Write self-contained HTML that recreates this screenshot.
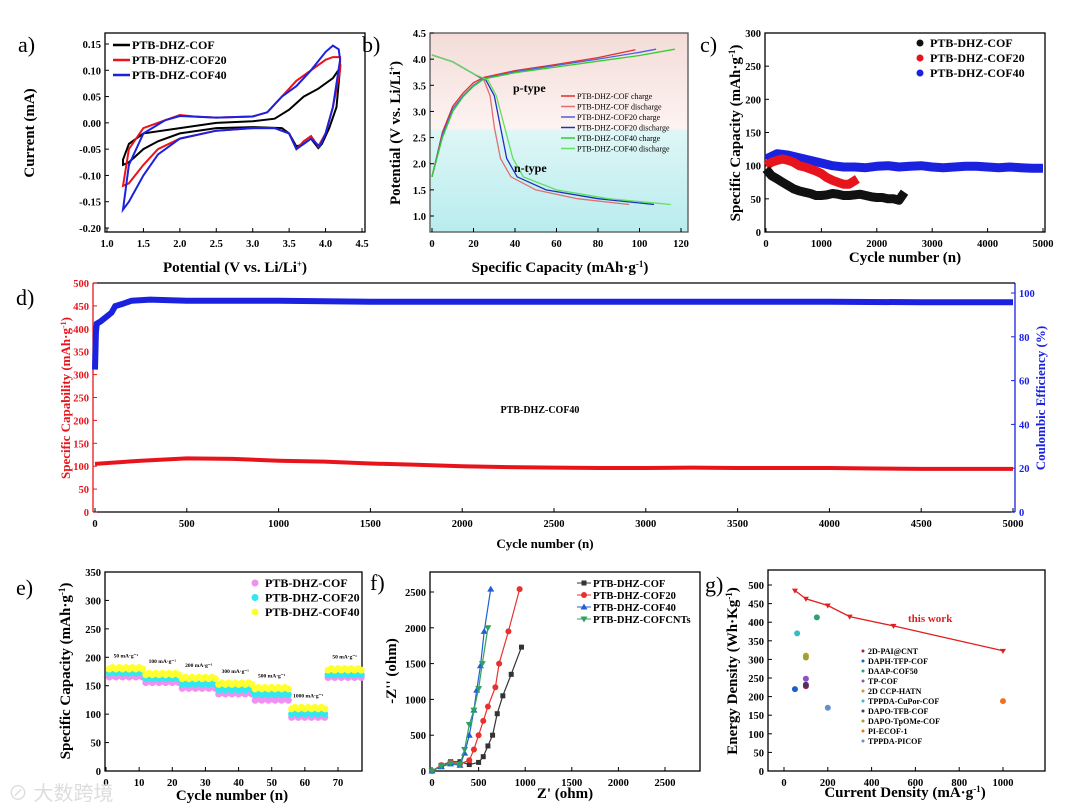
<!DOCTYPE html>
<html><head><meta charset="utf-8"><style>
html,body{margin:0;padding:0;background:#fff;}
svg{display:block;font-family:"Liberation Serif",serif;}
.t{font-size:10.5px;font-weight:bold;}
.ttl{font-size:15px;font-weight:bold;}
.pl{font-size:22px;}
.lg{font-size:12px;font-weight:bold;}
</style></head><body>
<svg id="fig" width="1080" height="812" viewBox="0 0 1080 812" xmlns="http://www.w3.org/2000/svg">
<defs>
<linearGradient id="gb" x1="0" y1="0" x2="0" y2="1">
<stop offset="0" stop-color="#f3dcd8"/><stop offset="0.48" stop-color="#fdf3f1"/>
<stop offset="0.49" stop-color="#dff6f6"/><stop offset="1" stop-color="#b8ecee"/>
</linearGradient>
</defs>
</svg>
<script>
// ---------- DATA ----------
const cvBlackV=[1.22,1.3,1.5,2.0,2.5,3.0,3.3,3.5,3.7,3.9,4.1,4.2,4.15,4.05,3.95,3.9,3.8,3.7,3.6,3.5,3.4,3.0,2.5,2.0,1.7,1.5,1.3,1.22];
const cvBlackI=[-0.07,-0.04,-0.02,-0.01,0.0,0.003,0.008,0.025,0.05,0.065,0.085,0.105,0.03,-0.01,-0.04,-0.048,-0.03,-0.04,-0.045,-0.02,-0.01,-0.008,-0.01,-0.02,-0.035,-0.05,-0.075,-0.08];
const cvRedV=[1.22,1.3,1.5,1.8,2.0,2.2,2.5,3.0,3.2,3.4,3.6,3.8,4.0,4.1,4.2,4.2,4.1,4.0,3.9,3.8,3.7,3.6,3.5,3.3,3.0,2.5,2.0,1.7,1.5,1.3,1.22];
const cvRedI=[-0.12,-0.05,-0.01,0.005,0.015,0.012,0.01,0.012,0.02,0.05,0.08,0.1,0.12,0.125,0.125,0.1,0.03,-0.02,-0.045,-0.025,-0.035,-0.05,-0.02,-0.01,-0.01,-0.015,-0.03,-0.05,-0.08,-0.115,-0.12];
const cvBlueV=[1.22,1.3,1.5,1.8,2.0,2.5,3.0,3.2,3.4,3.6,3.8,4.0,4.1,4.18,4.2,4.1,4.0,3.92,3.8,3.7,3.6,3.5,3.3,3.0,2.5,2.0,1.7,1.5,1.3,1.22];
const cvBlueI=[-0.165,-0.08,-0.02,0.005,0.013,0.01,0.012,0.02,0.05,0.07,0.1,0.135,0.147,0.14,0.12,0.03,-0.02,-0.045,-0.03,-0.04,-0.05,-0.02,-0.01,-0.01,-0.015,-0.03,-0.06,-0.1,-0.15,-0.165];
const aYTicks=[0.15,0.10,0.05,0.00,-0.05,-0.10,-0.15,-0.20];
const aXTicks=[1.0,1.5,2.0,2.5,3.0,3.5,4.0,4.5];
const chgCap=[0,5,10,15,20,25,40,60,80,98];
const chgV=[1.75,2.6,3.1,3.35,3.55,3.65,3.78,3.9,4.03,4.18];
const chg20Cap=[0,5,10,15,20,25,40,60,80,100,108];
const chg20V=[1.75,2.55,3.05,3.3,3.5,3.63,3.76,3.88,4.0,4.13,4.19];
const chg40Cap=[0,5,10,15,20,25,40,60,80,100,117];
const chg40V=[1.75,2.5,3.0,3.28,3.48,3.62,3.74,3.85,3.96,4.07,4.19];
const disCap=[0,10,20,25,28,30,33,38,50,70,95];
const disV=[4.08,3.95,3.72,3.6,3.3,2.7,2.1,1.75,1.5,1.33,1.22];
const dis20Cap=[0,10,20,26,30,33,36,41,55,80,107];
const dis20V=[4.08,3.95,3.72,3.6,3.3,2.7,2.1,1.75,1.5,1.33,1.22];
const dis40Cap=[0,10,20,27,31,35,39,44,60,85,115];
const dis40V=[4.08,3.95,3.72,3.6,3.3,2.7,2.1,1.75,1.5,1.33,1.22];
const bYTicks=[1.0,1.5,2.0,2.5,3.0,3.5,4.0,4.5];
const bXTicks=[0,20,40,60,80,100,120];
const cBlackCyc=[0,100,200,300,400,500,600,700,800,900,1000,1100,1200,1300,1400,1500,1600,1700,1800,1900,2000,2100,2200,2300,2400,2500];
const cBlackCap=[95,85,80,75,70,65,62,60,58,55,55,56,58,57,55,55,56,57,55,53,52,52,50,50,48,60];
const cRedCyc=[0,100,200,300,400,500,600,700,800,900,1000,1100,1200,1300,1400,1500,1650];
const cRedCap=[100,105,108,110,108,105,100,98,95,92,88,82,78,75,72,72,80];
const cBlueCyc=[0,200,400,600,800,1000,1200,1400,1600,1800,2000,2200,2400,2600,2800,3000,3200,3400,3600,3800,4000,4200,4400,4600,4800,5000];
const cBlueCap=[110,118,116,112,108,104,100,98,98,97,99,100,98,99,100,98,97,98,99,99,98,97,98,97,96,96];
const cYTicks=[0,50,100,150,200,250,300];
const cXTicks=[0,1000,2000,3000,4000,5000];
const dCapCyc=[0,250,500,750,1000,1250,1500,1750,2000,2250,2500,2750,3000,3250,3500,3750,4000,4250,4500,4750,5000];
const dCap=[105,112,117,116,112,110,106,103,100,98,97,96,96,97,96,96,96,95,94,94,94];
const dCeCyc=[0,5,10,30,60,90,110,150,200,300,500,1000,1500,2000,2500,3000,3500,4000,4500,5000];
const dCe=[65,82,86,87,89,91,94,95,96.5,97,96.5,96.5,96,96,96,96,96,96,95.8,95.8];
const dLYTicks=[0,50,100,150,200,250,300,350,400,450,500];
const dRYTicks=[0,20,40,60,80,100];
const dXTicks=[0,500,1000,1500,2000,2500,3000,3500,4000,4500,5000];
const eRates=['50 mA·g⁻¹','100 mA·g⁻¹','200 mA·g⁻¹','300 mA·g⁻¹','500 mA·g⁻¹','1000 mA·g⁻¹','50 mA·g⁻¹'];
const eCOF=[168,158,148,138,127,97,167];
const eCOF20=[175,165,155,145,137,103,172];
const eCOF40=[182,172,165,155,147,112,180];
const eYTicks=[0,50,100,150,200,250,300,350];
const eXTicks=[0,10,20,30,40,50,60,70];
const fBlackX=[0,100,200,300,400,500,550,600,650,700,760,850,960];
const fBlackY=[0,80,130,130,90,120,200,350,500,800,1050,1350,1730];
const fRedX=[0,100,200,300,400,450,500,550,600,680,720,820,940];
const fRedY=[0,80,120,100,150,300,500,700,900,1170,1500,1950,2540];
const fBlueX=[0,100,200,300,350,400,450,480,520,560,630];
const fBlueY=[0,60,100,80,250,500,850,1130,1470,1950,2540];
const fGreenX=[0,100,200,300,350,400,450,500,540,600];
const fGreenY=[0,70,110,90,300,650,850,1150,1500,2000];
const fTicks=[0,500,1000,1500,2000,2500];
const gWorkX=[50,100,200,300,500,1000];
const gWorkY=[485,463,445,415,390,323];
const gRefNames=['2D-PAI@CNT','DAPH-TFP-COF','DAAP-COF50','TP-COF','2D CCP-HATN','TPPDA-CuPor-COF','DAPO-TFB-COF','DAPO-TpOMe-COF','PI-ECOF-1','TPPDA-PICOF'];
const gRefX=[100,50,150,100,100,60,100,100,1000,200];
const gRefY=[228,220,413,248,310,370,232,305,188,170];
const gYTicks=[0,50,100,150,200,250,300,350,400,450,500];
const gXTicks=[0,200,400,600,800,1000];

// ---------- DRAW ----------
const NS='http://www.w3.org/2000/svg';
const svg=document.getElementById('fig');
function el(tag,attrs,parent,text){const e=document.createElementNS(NS,tag);for(const k in attrs)e.setAttribute(k,attrs[k]);if(text!==undefined)e.textContent=text;(parent||svg).appendChild(e);return e;}
function lin(d0,d1,r0,r1){return v=>r0+(v-d0)*(r1-r0)/(d1-d0);}
function g(name){const e=el('g',{});return e;}
function pathOf(xs,ys,sx,sy){return xs.map((x,i)=>(i?'L':'M')+sx(x).toFixed(1)+','+sy(ys[i]).toFixed(1)).join('');}
function frame(G,x0,y0,x1,y1,col){const r=el('rect',{x:x0,y:y0,width:x1-x0,height:y1-y0,fill:'none',stroke:col||'#000','stroke-width':1.3},G);}
function yTicks(G,ticks,sy,x,fmt,col,right){ticks.forEach(t=>{const y=sy(t);el('line',{x1:x,x2:right?x-4:x+4,y1:y,y2:y,stroke:col||'#000'},G);const tx=el('text',{x:right?x+4:x-4,y:y+4,'text-anchor':right?'start':'end',class:'t',fill:col||'#000'},G,fmt(t));});}
function xTicks(G,ticks,sx,y,fmt){ticks.forEach(t=>{const x=sx(t);el('line',{x1:x,x2:x,y1:y,y2:y-4,stroke:'#000'},G);const tx=el('text',{x:x,y:y+15,'text-anchor':'middle',class:'t'},G,fmt(t));});}
function label(G,txt,x,y,rot,name,col,size){const t=el('text',{x:x,y:y,'text-anchor':'middle',class:'ttl',fill:col||'#000',transform:rot?`rotate(-90 ${x} ${y})`:'' ,style:size?`font-size:${size}px`:''},G);t.innerHTML=txt;return t;}
function panelLetter(txt,x,y){const t=el('text',{x:x,y:y,class:'pl'},svg,txt);}

(function(){const G=g('panel-a-cv');const sx=lin(1.0,4.5,107,362),sy=lin(0.15,-0.20,44,228);
frame(G,105,33,365,232);
yTicks(G,aYTicks,sy,105,v=>v.toFixed(2));xTicks(G,aXTicks,sx,232,v=>v.toFixed(1));
[[cvBlackV,cvBlackI,'#000','cv-black'],[cvRedV,cvRedI,'#e8141c','cv-red'],[cvBlueV,cvBlueI,'#1a22e0','cv-blue']].forEach(s=>{const p=el('path',{d:pathOf(s[0],s[1],sx,sy)+'Z',fill:'none',stroke:s[2],'stroke-width':2},G);});
[['PTB-DHZ-COF','#000'],['PTB-DHZ-COF20','#e8141c'],['PTB-DHZ-COF40','#1a22e0']].forEach((l,i)=>{const y=45+i*15;el('line',{x1:113,x2:130,y1:y,y2:y,stroke:l[1],'stroke-width':2.5},G);const t=el('text',{x:132,y:y+4,class:'lg'},G,l[0]);});
label(G,'Current (mA)',34,133,true,'y-axis-title');
label(G,'Potential (V vs. Li/Li<tspan baseline-shift="super" font-size="9">+</tspan>)',235,272,false,'x-axis-title');
panelLetter('a)',18,52);})();

(function(){const G=g('panel-b-gcd');const sx=lin(0,120,432,681),sy=lin(4.5,1.0,33,216);
el('rect',{x:430,y:33,width:258,height:199,fill:'url(#gb)'},G);
frame(G,430,33,688,232,'#555');
yTicks(G,bYTicks,sy,430,v=>v.toFixed(1));xTicks(G,bXTicks,sx,232,v=>v);
const S=[[chgCap,chgV,'#e03030','charge-cof'],[disCap,disV,'#e07070','discharge-cof'],[chg20Cap,chg20V,'#5060e0','charge-cof20'],[dis20Cap,dis20V,'#2030c0','discharge-cof20'],[chg40Cap,chg40V,'#30d030','charge-cof40'],[dis40Cap,dis40V,'#60e060','discharge-cof40']];
S.forEach(s=>{const p=el('path',{d:pathOf(s[0],s[1],sx,sy),fill:'none',stroke:s[2],'stroke-width':1.3},G);});
['PTB-DHZ-COF charge','PTB-DHZ-COF discharge','PTB-DHZ-COF20 charge','PTB-DHZ-COF20 discharge','PTB-DHZ-COF40 charge','PTB-DHZ-COF40 discharge'].forEach((n,i)=>{const y=96+i*10.5;el('line',{x1:561,x2:575,y1:y,y2:y,stroke:S[i][2],'stroke-width':1.5},G);const t=el('text',{x:577,y:y+3,style:'font-size:8px'},G,n);});
const p1=el('text',{x:513,y:92,style:'font-size:12px;font-weight:bold'},G,'p-type');
const p2=el('text',{x:514,y:172,style:'font-size:12px;font-weight:bold'},G,'n-type');
label(G,'Potential (V vs. Li/Li<tspan baseline-shift="super" font-size="9">+</tspan>)',400,133,true,'y-axis-title');
label(G,'Specific Capacity (mAh·g<tspan baseline-shift="super" font-size="9">-1</tspan>)',560,272,false,'x-axis-title');
panelLetter('b)',362,52);})();

(function(){const G=g('panel-c-cycling');const sx=lin(0,5000,766,1043),sy=lin(0,300,232,33);
frame(G,765,33,1045,232);
yTicks(G,cYTicks,sy,765,v=>v);xTicks(G,cXTicks,sx,232,v=>v);
[[cBlueCyc,cBlueCap,'#1a22e0','series-cof40'],[cRedCyc,cRedCap,'#e8141c','series-cof20'],[cBlackCyc,cBlackCap,'#111','series-cof']].forEach(s=>{const p=el('path',{d:pathOf(s[0],s[1],sx,sy),fill:'none',stroke:s[2],'stroke-width':9,'stroke-linejoin':'round'},G);});
[['PTB-DHZ-COF','#111'],['PTB-DHZ-COF20','#e8141c'],['PTB-DHZ-COF40','#1a22e0']].forEach((l,i)=>{const y=43+i*15;el('circle',{cx:920,cy:y,r:3.5,fill:l[1]},G);const t=el('text',{x:930,y:y+4,class:'lg'},G,l[0]);});
label(G,'Specific Capacity (mAh·g<tspan baseline-shift="super" font-size="9">-1</tspan>)',740,133,true,'y-axis-title');
label(G,'Cycle number (n)',905,262,false,'x-axis-title');
panelLetter('c)',700,52);})();

(function(){const G=g('panel-d-long-cycling');const sx=lin(0,5000,95,1013),sy=lin(0,500,512,283),sr=lin(0,100,512,293);
el('line',{x1:93,x2:93,y1:283,y2:512,stroke:'#e8141c','stroke-width':1.3},G);
el('line',{x1:1015,x2:1015,y1:283,y2:512,stroke:'#1a22e0','stroke-width':1.3},G);
el('line',{x1:93,x2:1015,y1:283,y2:283,stroke:'#000','stroke-width':1.3},G);
el('line',{x1:93,x2:1015,y1:512,y2:512,stroke:'#000','stroke-width':1.3},G);
yTicks(G,dLYTicks,sy,93,v=>v,'#e8141c');yTicks(G,dRYTicks,sr,1015,v=>v,'#1a22e0',true);xTicks(G,dXTicks,sx,512,v=>v);
const pr=el('path',{d:pathOf(dCapCyc,dCap,sx,sy),fill:'none',stroke:'#e8141c','stroke-width':4},G);
const pb=el('path',{d:pathOf(dCeCyc,dCe,sx,sr),fill:'none',stroke:'#1a22e0','stroke-width':6},G);
const tt=el('text',{x:540,y:413,'text-anchor':'middle',style:'font-size:10px;font-weight:bold'},G,'PTB-DHZ-COF40');
label(G,'Specific Capability (mAh·g<tspan baseline-shift="super" font-size="8">-1</tspan>)',70,398,true,'left-y-axis-title','#e8141c',13);
label(G,'Coulombic Efficiency (%)',1045,398,true,'right-y-axis-title','#1a22e0',13);
label(G,'Cycle number (n)',545,548,false,'x-axis-title',null,13);
panelLetter('d)',16,305);})();

(function(){const G=g('panel-e-rate');const sx=lin(0,70,106,338),sy=lin(0,350,771,572);
frame(G,105,572,362,771);
yTicks(G,eYTicks,sy,105,v=>v);xTicks(G,eXTicks,sx,771,v=>v);
[[eCOF,'#f090f0','cof'],[eCOF20,'#30e8f0','cof20'],[eCOF40,'#ffff30','cof40']].forEach(s=>{s[0].forEach((v,k)=>{for(let c=1;c<=11;c++){const cyc=k*11+c;const jitter=(c%2)*1.5;const d=el('circle',{cx:sx(cyc),cy:sy(v)+jitter,r:3.5,fill:s[1]},G);}});});
eRates.forEach((r,k)=>{const x=sx(k*11+6),y=sy(eCOF40[k])-10;const t=el('text',{x:x,y:y,'text-anchor':'middle',style:'font-size:5.5px;font-weight:bold'},G,r);});
[['PTB-DHZ-COF','#f090f0'],['PTB-DHZ-COF20','#30e8f0'],['PTB-DHZ-COF40','#ffff30']].forEach((l,i)=>{const y=583+i*14.5;el('circle',{cx:255,cy:y,r:3.5,fill:l[1]},G);const t=el('text',{x:265,y:y+4,class:'lg'},G,l[0]);});
label(G,'Specific Capacity (mAh·g<tspan baseline-shift="super" font-size="9">-1</tspan>)',70,671,true,'y-axis-title');
label(G,'Cycle number (n)',232,800,false,'x-axis-title');
panelLetter('e)',16,595);})();

(function(){const G=g('panel-f-eis');const sx=lin(0,2500,432,665),sy=lin(0,2500,771,592);
frame(G,430,572,700,771);
yTicks(G,fTicks,sy,430,v=>v);xTicks(G,fTicks,sx,771,v=>v);
const S=[[fBlackX,fBlackY,'#333','square','cof'],[fRedX,fRedY,'#e83030','circle','cof20'],[fBlueX,fBlueY,'#2060d0','tri','cof40'],[fGreenX,fGreenY,'#30a060','itri','cofcnts']];
function mark(G,t,x,y,c){if(t==='square')return el('rect',{x:x-2.5,y:y-2.5,width:5,height:5,fill:c},G);if(t==='circle')return el('circle',{cx:x,cy:y,r:3,fill:c},G);if(t==='tri')return el('path',{d:`M${x},${y-3.5}L${x+3.5},${y+2.5}L${x-3.5},${y+2.5}Z`,fill:c},G);return el('path',{d:`M${x},${y+3.5}L${x+3.5},${y-2.5}L${x-3.5},${y-2.5}Z`,fill:c},G);}
S.forEach(s=>{const p=el('path',{d:pathOf(s[0],s[1],sx,sy),fill:'none',stroke:s[2],'stroke-width':1.2},G);s[0].forEach((x,i)=>{const m=mark(G,s[3],sx(x),sy(s[1][i]),s[2]);});});
['PTB-DHZ-COF','PTB-DHZ-COF20','PTB-DHZ-COF40','PTB-DHZ-COFCNTs'].forEach((n,i)=>{const y=583+i*12;el('line',{x1:577,x2:591,y1:y,y2:y,stroke:S[i][2]},G);mark(G,S[i][3],584,y,S[i][2]);const t=el('text',{x:593,y:y+4,style:'font-size:10.5px;font-weight:bold'},G,n);});
label(G,'-Z\'\' (ohm)',396,671,true,'y-axis-title');
label(G,'Z\' (ohm)',565,798,false,'x-axis-title');
panelLetter('f)',370,590);})();

(function(){const G=g('panel-g-ragone');const sx=lin(0,1000,784,1003),sy=lin(0,500,771,585);
frame(G,768,570,1045,771);
yTicks(G,gYTicks,sy,768,v=>v);xTicks(G,gXTicks,sx,771,v=>v);
const p=el('path',{d:pathOf(gWorkX,gWorkY,sx,sy),fill:'none',stroke:'#e02020','stroke-width':1.3},G);
gWorkX.forEach((x,i)=>{const m=el('path',{d:`M${sx(x)},${sy(gWorkY[i])+3}l3,-5h-6z`,fill:'#e02020'},G);});
const tw=el('text',{x:908,y:622,style:'font-size:11px;font-weight:bold',fill:'#e02020'},G,'this work');
const cols=['#a02040','#2060c0','#30a070','#9050c0','#c0a020','#30c0c0','#503060','#a0a030','#f07020','#6090d0'];
gRefNames.forEach((n,i)=>{const m=el('circle',{cx:sx(gRefX[i]),cy:sy(gRefY[i]),r:3,fill:cols[i]},G);
const y=654+i*10;el('circle',{cx:863,cy:y-3,r:1.5,fill:cols[i]},G);const t=el('text',{x:868,y:y,style:'font-size:8px;font-weight:bold'},G,n);});
label(G,'Energy Density (Wh·Kg<tspan baseline-shift="super" font-size="9">-1</tspan>)',737,671,true,'y-axis-title');
label(G,'Current Density (mA·g<tspan baseline-shift="super" font-size="9">-1</tspan>)',905,797,false,'x-axis-title');
panelLetter('g)',705,592);})();

const wm=el('text',{x:8,y:800,style:'font-size:20px',fill:'#ddd','font-family':'"Liberation Sans","Noto Sans CJK SC",sans-serif'},svg,'⊘ 大数跨境');


</script>
</body></html>
